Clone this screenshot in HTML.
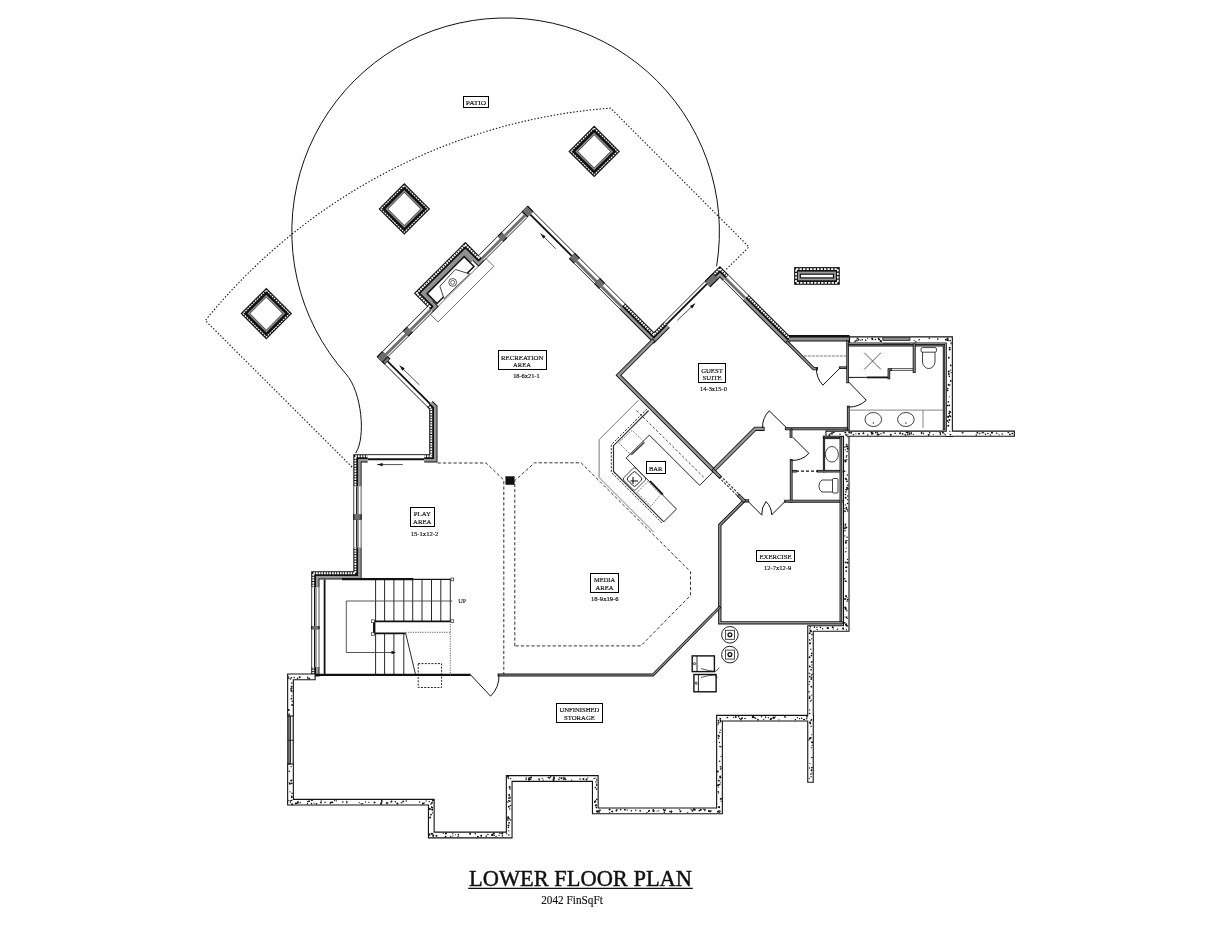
<!DOCTYPE html>
<html><head><meta charset="utf-8"><title>Lower Floor Plan</title>
<style>html,body{margin:0;padding:0;background:#fff;width:1212px;height:925px;overflow:hidden;position:relative;font-family:"Liberation Serif",serif}</style>
</head><body>
<svg width="1212" height="925" viewBox="0 0 1212 925" style="position:absolute;left:0;top:0;font-family:'Liberation Serif',serif">
<rect width="1212" height="925" fill="#fff"/>
<g style="will-change:transform">
<path d="M 716.6,266.3 A 213.8 213.8 0 1 0 346,374 C 362,391.9 366,438 355.7,453" fill="none" stroke="#111" stroke-width="1"/>
<path d="M 352,467 L 205.3,320.5 A 578 578 0 0 1 610.6,108.1 L 749,247 L 725.8,269.8" fill="none" stroke="#111" stroke-width="1.1" stroke-dasharray="1.4 1.9"/>
<rect x="386.06" y="190.66" width="36.49" height="36.49" transform="rotate(45 404.3 208.9)" fill="#111"/>
<rect x="387.81" y="192.41" width="32.99" height="32.99" transform="rotate(45 404.3 208.9)" fill="none" stroke="#fff" stroke-width="1.15" stroke-dasharray="1.8 0.9"/>
<rect x="390.96" y="195.56" width="26.69" height="26.69" transform="rotate(45 404.3 208.9)" fill="#8a8a8a"/>
<rect x="392.36" y="196.96" width="23.89" height="23.89" transform="rotate(45 404.3 208.9)" fill="#333"/>
<rect x="392.96" y="197.56" width="22.69" height="22.69" transform="rotate(45 404.3 208.9)" fill="#fff"/>
<rect x="248.06" y="295.36" width="36.49" height="36.49" transform="rotate(45 266.3 313.6)" fill="#111"/>
<rect x="249.81" y="297.11" width="32.99" height="32.99" transform="rotate(45 266.3 313.6)" fill="none" stroke="#fff" stroke-width="1.15" stroke-dasharray="1.8 0.9"/>
<rect x="252.96" y="300.26" width="26.69" height="26.69" transform="rotate(45 266.3 313.6)" fill="#8a8a8a"/>
<rect x="254.36" y="301.66" width="23.89" height="23.89" transform="rotate(45 266.3 313.6)" fill="#333"/>
<rect x="254.96" y="302.26" width="22.69" height="22.69" transform="rotate(45 266.3 313.6)" fill="#fff"/>
<rect x="575.96" y="133.16" width="36.49" height="36.49" transform="rotate(45 594.2 151.4)" fill="#111"/>
<rect x="577.71" y="134.91" width="32.99" height="32.99" transform="rotate(45 594.2 151.4)" fill="none" stroke="#fff" stroke-width="1.15" stroke-dasharray="1.8 0.9"/>
<rect x="580.86" y="138.06" width="26.69" height="26.69" transform="rotate(45 594.2 151.4)" fill="#8a8a8a"/>
<rect x="582.26" y="139.46" width="23.89" height="23.89" transform="rotate(45 594.2 151.4)" fill="#333"/>
<rect x="582.86" y="140.06" width="22.69" height="22.69" transform="rotate(45 594.2 151.4)" fill="#fff"/>
<polygon points="311.2,676.5 311.2,571.2 353.3,571.2 353.3,454.2 429.2,454.2 429.2,409.2 376.75,356.75 427,306.5 413.85,293.35 465.35,241.85 478.5,255 527.75,205.75 653.9,331.9 719.9,265.9 788.9,334.9 790,334.9 790,343.2 785.46,343.2 719.9,277.64 653.9,343.64 527.75,217.49 478.5,266.74 465.35,253.59 425.59,293.35 438.74,306.5 388.49,356.75 437.5,405.76 437.5,462.5 361.6,462.5 361.6,579.5 319.5,579.5 319.5,676.5" fill="#111"/>
<polyline points="313.25,676.5 313.25,573.25 355.35,573.25 355.35,456.25 431.25,456.25 431.25,408.35 379.65,356.75 429.9,306.5 416.75,293.35 465.35,244.75 478.5,257.9 527.75,208.65 653.9,334.8 719.9,268.8 788.05,336.95 790,336.95" fill="none" stroke="#fff" stroke-width="1.9" stroke-dasharray="1.8 0.85" stroke-linecap="butt" stroke-linejoin="miter"/>
<polygon points="316,676.5 316,576 358.1,576 358.1,459 434,459 434,407.21 383.54,356.75 433.79,306.5 420.64,293.35 465.35,248.64 478.5,261.79 527.75,212.54 653.9,338.69 719.9,272.69 786.91,339.7 790,339.7 790,342.3 785.83,342.3 719.9,276.37 653.9,342.37 527.75,216.22 478.5,265.47 465.35,252.32 424.32,293.35 437.47,306.5 387.22,356.75 436.6,406.13 436.6,461.6 360.7,461.6 360.7,578.6 318.6,578.6 318.6,676.5" fill="#969696"/>
<polygon points="788.9,334.9 849.5,334.9 849.5,341.5 788.9,341.5" fill="#111"/>
<polygon points="788.9,337.6 849.5,337.6 849.5,340.6 788.9,340.6" fill="#8e8e8e"/>
<polygon points="367.7,453.8 424.2,453.8 424.2,464.4 367.7,464.4" fill="#fff"/>
<polyline points="367.7,454.65 424.2,454.65" fill="none" stroke="#111" stroke-width="0.9" stroke-linecap="butt" stroke-linejoin="miter"/>
<polyline points="367.7,459.24 424.2,459.24" fill="none" stroke="#111" stroke-width="1.8" stroke-linecap="butt" stroke-linejoin="miter"/>
<polygon points="352.9,547.4 352.9,519.8 362.3,519.8 362.3,547.4" fill="#fff"/>
<polyline points="353.75,547.4 353.75,519.8" fill="none" stroke="#333" stroke-width="0.9" stroke-linecap="butt" stroke-linejoin="miter"/>
<polyline points="361.1,547.4 361.1,519.8" fill="none" stroke="#555" stroke-width="1" stroke-linecap="butt" stroke-linejoin="miter"/>
<polyline points="356.79,547.4 356.79,519.8" fill="none" stroke="#111" stroke-width="1.4" stroke-linecap="butt" stroke-linejoin="miter"/>
<polyline points="358.45,547.4 358.45,519.8" fill="none" stroke="#666" stroke-width="0.7" stroke-linecap="butt" stroke-linejoin="miter"/>
<polygon points="353.3,519.8 353.3,514.1 361.6,514.1 361.6,519.8" fill="#111"/>
<polygon points="354.3,519.8 354.3,514.1 360.6,514.1 360.6,519.8" fill="#6e6e6e"/>
<polygon points="352.9,514.1 352.9,486.4 362.3,486.4 362.3,514.1" fill="#fff"/>
<polyline points="353.75,514.1 353.75,486.4" fill="none" stroke="#333" stroke-width="0.9" stroke-linecap="butt" stroke-linejoin="miter"/>
<polyline points="361.1,514.1 361.1,486.4" fill="none" stroke="#555" stroke-width="1" stroke-linecap="butt" stroke-linejoin="miter"/>
<polyline points="356.79,514.1 356.79,486.4" fill="none" stroke="#111" stroke-width="1.4" stroke-linecap="butt" stroke-linejoin="miter"/>
<polyline points="358.45,514.1 358.45,486.4" fill="none" stroke="#666" stroke-width="0.7" stroke-linecap="butt" stroke-linejoin="miter"/>
<polygon points="310.8,667 310.8,629.2 320.2,629.2 320.2,667" fill="#fff"/>
<polyline points="311.65,667 311.65,629.2" fill="none" stroke="#333" stroke-width="0.9" stroke-linecap="butt" stroke-linejoin="miter"/>
<polyline points="319,667 319,629.2" fill="none" stroke="#555" stroke-width="1" stroke-linecap="butt" stroke-linejoin="miter"/>
<polyline points="314.69,667 314.69,629.2" fill="none" stroke="#111" stroke-width="1.4" stroke-linecap="butt" stroke-linejoin="miter"/>
<polyline points="316.35,667 316.35,629.2" fill="none" stroke="#666" stroke-width="0.7" stroke-linecap="butt" stroke-linejoin="miter"/>
<polygon points="311.2,629.2 311.2,626 319.5,626 319.5,629.2" fill="#111"/>
<polygon points="312.2,629.2 312.2,626 318.5,626 318.5,629.2" fill="#6e6e6e"/>
<polygon points="310.8,626 310.8,587.4 320.2,587.4 320.2,626" fill="#fff"/>
<polyline points="311.65,626 311.65,587.4" fill="none" stroke="#333" stroke-width="0.9" stroke-linecap="butt" stroke-linejoin="miter"/>
<polyline points="319,626 319,587.4" fill="none" stroke="#555" stroke-width="1" stroke-linecap="butt" stroke-linejoin="miter"/>
<polyline points="314.69,626 314.69,587.4" fill="none" stroke="#111" stroke-width="1.4" stroke-linecap="butt" stroke-linejoin="miter"/>
<polyline points="316.35,626 316.35,587.4" fill="none" stroke="#666" stroke-width="0.7" stroke-linecap="butt" stroke-linejoin="miter"/>
<polygon points="426.52,407.08 384.22,364.78 390.86,358.14 433.16,400.44" fill="#fff"/>
<polyline points="427.12,406.48 384.82,364.18" fill="none" stroke="#111" stroke-width="0.9" stroke-linecap="butt" stroke-linejoin="miter"/>
<polyline points="429.91,403.69 387.61,361.39" fill="none" stroke="#111" stroke-width="1.8" stroke-linecap="butt" stroke-linejoin="miter"/>
<polygon points="384.5,364.5 376.75,356.75 382.62,350.88 390.37,358.63" fill="#111"/>
<polygon points="385.21,363.79 377.46,356.04 381.91,351.59 389.66,359.34" fill="#6e6e6e"/>
<polygon points="376.75,356.75 382.5,351 388.37,356.87 382.62,362.62" fill="#111"/>
<polygon points="377.46,357.46 383.21,351.71 387.66,356.16 381.91,361.91" fill="#6e6e6e"/>
<polygon points="382.22,350.72 402.52,330.42 409.16,337.06 388.86,357.36" fill="#fff"/>
<polygon points="384.96,353.46 405.26,333.16 407.32,335.22 387.02,355.52" fill="#707070"/>
<polyline points="382.82,351.32 403.12,331.02" fill="none" stroke="#111" stroke-width="0.9" stroke-linecap="butt" stroke-linejoin="miter"/>
<polyline points="388.05,356.55 408.35,336.25" fill="none" stroke="#111" stroke-width="0.9" stroke-linecap="butt" stroke-linejoin="miter"/>
<polygon points="402.8,330.7 407,326.5 412.87,332.37 408.67,336.57" fill="#111"/>
<polygon points="403.51,331.41 407.71,327.21 412.16,331.66 407.96,335.86" fill="#6e6e6e"/>
<polygon points="406.72,326.22 426.72,306.22 433.36,312.86 413.36,332.86" fill="#fff"/>
<polygon points="409.46,328.96 429.46,308.96 431.52,311.02 411.52,331.02" fill="#707070"/>
<polyline points="407.32,326.82 427.32,306.82" fill="none" stroke="#111" stroke-width="0.9" stroke-linecap="butt" stroke-linejoin="miter"/>
<polyline points="412.55,332.05 432.55,312.05" fill="none" stroke="#111" stroke-width="0.9" stroke-linecap="butt" stroke-linejoin="miter"/>
<polygon points="478.22,254.72 497.22,235.72 503.86,242.36 484.86,261.36" fill="#fff"/>
<polygon points="480.96,257.46 499.96,238.46 502.02,240.52 483.02,259.52" fill="#707070"/>
<polyline points="478.82,255.32 497.82,236.32" fill="none" stroke="#111" stroke-width="0.9" stroke-linecap="butt" stroke-linejoin="miter"/>
<polyline points="484.05,260.55 503.05,241.55" fill="none" stroke="#111" stroke-width="0.9" stroke-linecap="butt" stroke-linejoin="miter"/>
<polygon points="497.5,236 501.7,231.8 507.57,237.67 503.37,241.87" fill="#111"/>
<polygon points="498.21,236.71 502.41,232.51 506.86,236.96 502.66,241.16" fill="#6e6e6e"/>
<polygon points="501.42,231.52 521.22,211.72 527.86,218.36 508.06,238.16" fill="#fff"/>
<polygon points="504.16,234.26 523.96,214.46 526.02,216.52 506.22,236.32" fill="#707070"/>
<polyline points="502.02,232.12 521.82,212.32" fill="none" stroke="#111" stroke-width="0.9" stroke-linecap="butt" stroke-linejoin="miter"/>
<polyline points="507.25,237.35 527.05,217.55" fill="none" stroke="#111" stroke-width="0.9" stroke-linecap="butt" stroke-linejoin="miter"/>
<polygon points="521.5,212 527.75,205.75 533.62,211.62 527.37,217.87" fill="#111"/>
<polygon points="522.21,212.71 528.46,206.46 532.91,210.91 526.66,217.16" fill="#6e6e6e"/>
<polygon points="527.75,205.75 533.5,211.5 527.63,217.37 521.88,211.62" fill="#111"/>
<polygon points="527.04,206.46 532.79,212.21 528.34,216.66 522.59,210.91" fill="#6e6e6e"/>
<polygon points="533.78,211.22 575.08,252.52 568.44,259.16 527.14,217.86" fill="#fff"/>
<polyline points="533.18,211.82 574.48,253.12" fill="none" stroke="#111" stroke-width="0.9" stroke-linecap="butt" stroke-linejoin="miter"/>
<polyline points="530.39,214.61 571.69,255.91" fill="none" stroke="#111" stroke-width="1.8" stroke-linecap="butt" stroke-linejoin="miter"/>
<polygon points="574.8,252.8 580,258 574.13,263.87 568.93,258.67" fill="#111"/>
<polygon points="574.09,253.51 579.29,258.71 574.84,263.16 569.64,257.96" fill="#6e6e6e"/>
<polygon points="580.28,257.72 600.28,277.72 593.64,284.36 573.64,264.36" fill="#fff"/>
<polygon points="577.54,260.46 597.54,280.46 595.48,282.52 575.48,262.52" fill="#707070"/>
<polyline points="579.68,258.32 599.68,278.32" fill="none" stroke="#111" stroke-width="0.9" stroke-linecap="butt" stroke-linejoin="miter"/>
<polyline points="574.45,263.55 594.45,283.55" fill="none" stroke="#111" stroke-width="0.9" stroke-linecap="butt" stroke-linejoin="miter"/>
<polygon points="600,278 605.2,283.2 599.33,289.07 594.13,283.87" fill="#111"/>
<polygon points="599.29,278.71 604.49,283.91 600.04,288.36 594.84,283.16" fill="#6e6e6e"/>
<polygon points="605.48,282.92 625.28,302.72 618.64,309.36 598.84,289.56" fill="#fff"/>
<polygon points="602.74,285.66 622.54,305.46 620.48,307.52 600.68,287.72" fill="#707070"/>
<polyline points="604.88,283.52 624.68,303.32" fill="none" stroke="#111" stroke-width="0.9" stroke-linecap="butt" stroke-linejoin="miter"/>
<polyline points="599.65,288.75 619.45,308.55" fill="none" stroke="#111" stroke-width="0.9" stroke-linecap="butt" stroke-linejoin="miter"/>
<polygon points="663.72,321.52 704.22,281.02 710.86,287.66 670.36,328.16" fill="#fff"/>
<polyline points="664.32,322.12 704.82,281.62" fill="none" stroke="#111" stroke-width="0.9" stroke-linecap="butt" stroke-linejoin="miter"/>
<polyline points="666.47,324.27 706.97,283.77" fill="none" stroke="#111" stroke-width="1.8" stroke-linecap="butt" stroke-linejoin="miter"/>
<polygon points="704.5,281.3 712.5,273.3 718.37,279.17 710.37,287.17" fill="#111"/>
<polygon points="705.21,282.01 713.21,274.01 717.66,278.46 709.66,286.46" fill="#6e6e6e"/>
<polygon points="729.08,274.52 748.88,294.32 742.24,300.96 722.44,281.16" fill="#fff"/>
<polygon points="726.34,277.26 746.14,297.06 744.08,299.12 724.28,279.32" fill="#707070"/>
<polyline points="728.48,275.12 748.28,294.92" fill="none" stroke="#111" stroke-width="0.9" stroke-linecap="butt" stroke-linejoin="miter"/>
<polyline points="723.25,280.35 743.05,300.15" fill="none" stroke="#111" stroke-width="0.9" stroke-linecap="butt" stroke-linejoin="miter"/>
<polygon points="422.50,293.00 464.75,250.75 473.80,259.80 431.55,302.05" fill="#8e8e8e"/>
<polygon points="427.15,293.65 464.15,256.65 474.00,266.50 437.00,303.50" fill="#fff" stroke="#111" stroke-width="1.5"/>
<polygon points="439.9,286.3 455.3,269.4 469.7,274 444,298.7" fill="#fff" stroke="#111" stroke-width="0.8"/>
<circle cx="452.7" cy="282.4" r="3.9" fill="none" stroke="#111" stroke-width="0.7"/>
<circle cx="452.7" cy="282.4" r="2" fill="none" stroke="#111" stroke-width="0.6"/>
<polygon points="430.2,314.2 437.9,322 493.8,266.3 486.1,258.6" fill="none" stroke="#333" stroke-width="0.7"/>
<polyline points="652.5,341.3 618.5,375.3 713.6,470.4 755.2,428.8 762.5,428.8" fill="none" stroke="#111" stroke-width="4.2" stroke-linejoin="miter" stroke-linecap="square"/>
<polyline points="652.5,341.3 618.5,375.3 713.6,470.4 755.2,428.8 762.5,428.8" fill="none" stroke="#959595" stroke-width="2.5" stroke-linejoin="miter" stroke-linecap="square"/>
<polyline points="787.5,342.5 813.6,368.6 816.3,368.6" fill="none" stroke="#111" stroke-width="3.4" stroke-linejoin="miter" stroke-linecap="square"/>
<polyline points="787.5,342.5 813.6,368.6 816.3,368.6" fill="none" stroke="#8e8e8e" stroke-width="1.7" stroke-linejoin="miter" stroke-linecap="square"/>
<polyline points="840.2,367.7 846,367.7" fill="none" stroke="#111" stroke-width="2.6" stroke-linejoin="miter" stroke-linecap="square"/>
<polyline points="840.2,367.7 846,367.7" fill="none" stroke="#8e8e8e" stroke-width="0.9" stroke-linejoin="miter" stroke-linecap="square"/>
<polyline points="847.6,341.5 847.6,381.9" fill="none" stroke="#111" stroke-width="2.6" stroke-linejoin="miter" stroke-linecap="square"/>
<polyline points="847.6,341.5 847.6,381.9" fill="none" stroke="#8e8e8e" stroke-width="0.9" stroke-linejoin="miter" stroke-linecap="square"/>
<polyline points="848.3,407.1 848.3,428.8" fill="none" stroke="#111" stroke-width="2.8" stroke-linejoin="miter" stroke-linecap="square"/>
<polyline points="848.3,407.1 848.3,428.8" fill="none" stroke="#8e8e8e" stroke-width="1.1" stroke-linejoin="miter" stroke-linecap="square"/>
<polyline points="786.4,428.8 846.25,428.8" fill="none" stroke="#111" stroke-width="3" stroke-linejoin="miter" stroke-linecap="square"/>
<polyline points="786.4,428.8 846.25,428.8" fill="none" stroke="#8e8e8e" stroke-width="1.3" stroke-linejoin="miter" stroke-linecap="square"/>
<polyline points="791,430 791,436.4" fill="none" stroke="#111" stroke-width="2.8" stroke-linejoin="miter" stroke-linecap="square"/>
<polyline points="791,430 791,436.4" fill="none" stroke="#8e8e8e" stroke-width="1.1" stroke-linejoin="miter" stroke-linecap="square"/>
<polyline points="849,345.3 944,345.3 944,428.8" fill="none" stroke="#111" stroke-width="2.4" stroke-linejoin="miter" stroke-linecap="square"/>
<polyline points="849,345.3 944,345.3 944,428.8" fill="none" stroke="#8e8e8e" stroke-width="0.7" stroke-linejoin="miter" stroke-linecap="square"/>
<polyline points="914.2,345 914.2,371.5" fill="none" stroke="#111" stroke-width="3" stroke-linejoin="miter" stroke-linecap="square"/>
<polyline points="914.2,345 914.2,371.5" fill="none" stroke="#8e8e8e" stroke-width="1.3" stroke-linejoin="miter" stroke-linecap="square"/>
<polyline points="849,377.4 866.6,377.4" fill="none" stroke="#111" stroke-width="1" stroke-linecap="butt"/>
<polyline points="866.6,377.4 888.9,377.4" fill="none" stroke="#111" stroke-width="1.8" stroke-linecap="butt"/>
<polyline points="888.9,378 888.9,369.6 890.5,369.6" fill="none" stroke="#111" stroke-width="2.6" stroke-linejoin="miter" stroke-linecap="square"/>
<polyline points="888.9,378 888.9,369.6 890.5,369.6" fill="none" stroke="#8e8e8e" stroke-width="0.9" stroke-linejoin="miter" stroke-linecap="square"/>
<polyline points="890,368.6 913,368.6" fill="none" stroke="#111" stroke-width="0.7" stroke-linecap="butt"/>
<polyline points="890,370.4 913,370.4" fill="none" stroke="#111" stroke-width="0.7" stroke-linecap="butt"/>
<polyline points="824,436.7 824,471.2" fill="none" stroke="#111" stroke-width="2.2" stroke-linejoin="miter" stroke-linecap="square"/>
<polyline points="824,436.7 824,471.2" fill="none" stroke="#8e8e8e" stroke-width="0.5" stroke-linejoin="miter" stroke-linecap="square"/>
<polyline points="824,438 841,438" fill="none" stroke="#111" stroke-width="2.2" stroke-linejoin="miter" stroke-linecap="square"/>
<polyline points="824,438 841,438" fill="none" stroke="#8e8e8e" stroke-width="0.5" stroke-linejoin="miter" stroke-linecap="square"/>
<polyline points="818,471.2 841,471.2" fill="none" stroke="#111" stroke-width="2.6" stroke-linejoin="miter" stroke-linecap="square"/>
<polyline points="818,471.2 841,471.2" fill="none" stroke="#8e8e8e" stroke-width="0.9" stroke-linejoin="miter" stroke-linecap="square"/>
<polyline points="792.7,471.2 795.5,471.2" fill="none" stroke="#111" stroke-width="2.6" stroke-linejoin="miter" stroke-linecap="square"/>
<polyline points="792.7,471.2 795.5,471.2" fill="none" stroke="#8e8e8e" stroke-width="0.9" stroke-linejoin="miter" stroke-linecap="square"/>
<polyline points="796,471.2 818,471.2" fill="none" stroke="#111" stroke-width="1.2" stroke-dasharray="3 2" stroke-linecap="butt"/>
<polyline points="791.2,460.4 791.2,501.2" fill="none" stroke="#111" stroke-width="2.8" stroke-linejoin="miter" stroke-linecap="square"/>
<polyline points="791.2,460.4 791.2,501.2" fill="none" stroke="#8e8e8e" stroke-width="1.1" stroke-linejoin="miter" stroke-linecap="square"/>
<polyline points="785.7,501.2 841,501.2" fill="none" stroke="#111" stroke-width="3" stroke-linejoin="miter" stroke-linecap="square"/>
<polyline points="785.7,501.2 841,501.2" fill="none" stroke="#8e8e8e" stroke-width="1.3" stroke-linejoin="miter" stroke-linecap="square"/>
<polyline points="840.9,436.7 840.9,622.8" fill="none" stroke="#111" stroke-width="2.7" stroke-linejoin="miter" stroke-linecap="square"/>
<polyline points="840.9,436.7 840.9,622.8" fill="none" stroke="#8e8e8e" stroke-width="1" stroke-linejoin="miter" stroke-linecap="square"/>
<polyline points="747.5,500.8 744,500.8 719.8,525 719.8,622.8 841,622.8" fill="none" stroke="#111" stroke-width="3.3" stroke-linejoin="miter" stroke-linecap="square"/>
<polyline points="747.5,500.8 744,500.8 719.8,525 719.8,622.8 841,622.8" fill="none" stroke="#8e8e8e" stroke-width="1.6" stroke-linejoin="miter" stroke-linecap="square"/>
<polyline points="719.4,607.6 653,675 499,675" fill="none" stroke="#111" stroke-width="2.8" stroke-linejoin="miter" stroke-linecap="square"/>
<polyline points="719.4,607.6 653,675 499,675" fill="none" stroke="#999" stroke-width="1.2" stroke-linejoin="miter" stroke-linecap="square"/>
<polyline points="315.6,674.8 470.6,674.8" fill="none" stroke="#111" stroke-width="2.2" stroke-linecap="butt"/>
<polyline points="852.6,339.95 949.3,339.95 949.3,433.5" fill="none" stroke="#111" stroke-width="7.2" stroke-linejoin="miter" stroke-linecap="square"/>
<polyline points="828.5,433.7 1011.8,433.7" fill="none" stroke="#111" stroke-width="6.2" stroke-linejoin="miter" stroke-linecap="square"/>
<polyline points="846.25,433.7 846.25,628.5 810.5,628.5 810.5,779.5" fill="none" stroke="#111" stroke-width="6.6" stroke-linejoin="miter" stroke-linecap="square"/>
<polyline points="312.3,676.9 290.5,676.9 290.5,802.2 431.3,802.2 431.3,835 509.2,835 509.2,778.5 595.3,778.5 595.3,810.9 719.5,810.9 719.5,718.2 810.5,718.2" fill="none" stroke="#111" stroke-width="6.8" stroke-linejoin="miter" stroke-linecap="square"/>
<polyline points="852.6,339.95 949.3,339.95 949.3,433.5" fill="none" stroke="#fff" stroke-width="5" stroke-linejoin="miter" stroke-linecap="square"/>
<polyline points="828.5,433.7 1011.8,433.7" fill="none" stroke="#fff" stroke-width="4" stroke-linejoin="miter" stroke-linecap="square"/>
<polyline points="846.25,433.7 846.25,628.5 810.5,628.5 810.5,779.5" fill="none" stroke="#fff" stroke-width="4.4" stroke-linejoin="miter" stroke-linecap="square"/>
<polyline points="312.3,676.9 290.5,676.9 290.5,802.2 431.3,802.2 431.3,835 509.2,835 509.2,778.5 595.3,778.5 595.3,810.9 719.5,810.9 719.5,718.2 810.5,718.2" fill="none" stroke="#fff" stroke-width="4.6" stroke-linejoin="miter" stroke-linecap="square"/>
<g fill="#111"><circle cx="883.14" cy="338.62" r="1"/><circle cx="855.28" cy="341.17" r="0.6"/><circle cx="887.37" cy="338.27" r="0.9"/><circle cx="872.11" cy="338.38" r="0.8"/><circle cx="857.46" cy="338.39" r="0.8"/><circle cx="856.38" cy="340.2" r="0.65"/><circle cx="914.16" cy="340.27" r="0.6"/><circle cx="908.75" cy="339.56" r="0.65"/><circle cx="855.11" cy="341.31" r="0.75"/><circle cx="892.77" cy="340.1" r="0.9"/><circle cx="881.59" cy="341.15" r="0.65"/><circle cx="860.82" cy="340.22" r="0.65"/><circle cx="888.05" cy="340.13" r="0.6"/><circle cx="907.46" cy="340.4" r="0.8"/><circle cx="919.19" cy="339.67" r="0.75"/><circle cx="897.47" cy="341.56" r="0.75"/><circle cx="880.71" cy="341.07" r="1"/><circle cx="929.24" cy="338.36" r="0.75"/><circle cx="903.5" cy="341.38" r="1"/><circle cx="895.78" cy="340.36" r="0.6"/><circle cx="862.34" cy="339.64" r="0.75"/><circle cx="865.77" cy="339.91" r="0.6"/><circle cx="947.66" cy="338.34" r="0.9"/><circle cx="908.33" cy="341.38" r="0.75"/><circle cx="884.79" cy="339.38" r="0.8"/><circle cx="909.03" cy="339.78" r="0.6"/><circle cx="945.91" cy="339.85" r="1"/><circle cx="856.97" cy="340.83" r="0.75"/><circle cx="915.82" cy="341.82" r="0.8"/><circle cx="879.17" cy="339.52" r="1"/><circle cx="885.48" cy="341.62" r="0.75"/><circle cx="867.39" cy="338.49" r="0.6"/><circle cx="872.46" cy="339.14" r="1"/><circle cx="875.43" cy="339.54" r="0.8"/><circle cx="858.55" cy="339.76" r="0.9"/><circle cx="878.49" cy="338.57" r="0.8"/><circle cx="937.75" cy="339.11" r="0.8"/><circle cx="950.13" cy="340.64" r="0.8"/><circle cx="947.23" cy="338.62" r="0.65"/><circle cx="865.7" cy="340.55" r="0.6"/><circle cx="948.96" cy="385.25" r="0.75"/><circle cx="950.65" cy="365.37" r="0.9"/><circle cx="949.05" cy="373.92" r="0.65"/><circle cx="949.24" cy="405.38" r="0.9"/><circle cx="948.39" cy="401.9" r="0.8"/><circle cx="948.24" cy="425.86" r="1"/><circle cx="949.71" cy="415.9" r="0.8"/><circle cx="949.37" cy="376.35" r="0.8"/><circle cx="950.94" cy="343.85" r="0.65"/><circle cx="950.78" cy="380.91" r="0.9"/><circle cx="951.2" cy="342.9" r="0.65"/><circle cx="947.59" cy="390.31" r="0.9"/><circle cx="947.88" cy="340.25" r="0.9"/><circle cx="948.79" cy="374.6" r="0.75"/><circle cx="949.4" cy="396.74" r="0.6"/><circle cx="947.43" cy="420.9" r="0.8"/><circle cx="950.01" cy="384.8" r="0.65"/><circle cx="949.9" cy="347.76" r="0.75"/><circle cx="948.57" cy="384.63" r="0.9"/><circle cx="947.59" cy="340.01" r="0.9"/><circle cx="948.58" cy="373.18" r="0.6"/><circle cx="950.07" cy="412.01" r="1"/><circle cx="948.55" cy="422.31" r="0.75"/><circle cx="947.75" cy="388.53" r="0.75"/><circle cx="949.18" cy="413.36" r="0.9"/><circle cx="950.35" cy="370.04" r="0.65"/><circle cx="948.09" cy="416.71" r="1"/><circle cx="950.44" cy="416.44" r="0.8"/><circle cx="951.09" cy="372.58" r="0.6"/><circle cx="949.41" cy="415.14" r="0.65"/><circle cx="947.57" cy="405.58" r="0.8"/><circle cx="948.45" cy="416.95" r="0.75"/><circle cx="949.81" cy="431.29" r="0.65"/><circle cx="949.41" cy="347.76" r="0.75"/><circle cx="948.83" cy="357.77" r="0.9"/><circle cx="949.38" cy="420.07" r="1"/><circle cx="948.76" cy="371.45" r="1"/><circle cx="949.72" cy="349.49" r="1"/><circle cx="949.38" cy="411.23" r="0.65"/><circle cx="907.81" cy="434.08" r="0.6"/><circle cx="976.31" cy="435.02" r="0.8"/><circle cx="913.27" cy="434.38" r="0.6"/><circle cx="962.12" cy="432.78" r="0.65"/><circle cx="831.94" cy="433.95" r="0.8"/><circle cx="977.37" cy="432.71" r="0.9"/><circle cx="1009.82" cy="434.14" r="0.75"/><circle cx="855.91" cy="433.84" r="0.6"/><circle cx="829.46" cy="435.02" r="1"/><circle cx="845.99" cy="434.4" r="0.65"/><circle cx="907.79" cy="434.74" r="0.65"/><circle cx="832.03" cy="432.9" r="0.9"/><circle cx="871.71" cy="433.94" r="0.75"/><circle cx="928.43" cy="434.64" r="0.6"/><circle cx="996.7" cy="433.29" r="0.8"/><circle cx="950.48" cy="434.58" r="0.9"/><circle cx="905.33" cy="434.87" r="0.9"/><circle cx="851.21" cy="432.73" r="0.9"/><circle cx="830.29" cy="433.53" r="0.65"/><circle cx="940.42" cy="434.47" r="0.65"/><circle cx="858.98" cy="433.63" r="1"/><circle cx="849.27" cy="432.47" r="1"/><circle cx="923.58" cy="433.86" r="0.6"/><circle cx="991.7" cy="432.46" r="0.65"/><circle cx="878.5" cy="434.46" r="0.9"/><circle cx="911.22" cy="432.38" r="0.6"/><circle cx="909.55" cy="434.02" r="0.9"/><circle cx="939.97" cy="432.86" r="0.75"/><circle cx="911.25" cy="433.79" r="0.8"/><circle cx="921.6" cy="432.99" r="0.9"/><circle cx="990.45" cy="434.94" r="0.75"/><circle cx="999.08" cy="434.8" r="0.65"/><circle cx="983.63" cy="432.68" r="0.6"/><circle cx="900.05" cy="433.18" r="1"/><circle cx="871.73" cy="432.5" r="1"/><circle cx="883.33" cy="432.64" r="0.65"/><circle cx="1002.21" cy="434.1" r="0.75"/><circle cx="853.49" cy="434.77" r="0.8"/><circle cx="867.8" cy="434.97" r="0.8"/><circle cx="992.02" cy="432.76" r="1"/><circle cx="982.22" cy="432.75" r="0.8"/><circle cx="1012.39" cy="433.43" r="0.8"/><circle cx="863.35" cy="433.19" r="1"/><circle cx="895.12" cy="433.25" r="0.8"/><circle cx="909.03" cy="432.35" r="0.75"/><circle cx="923.4" cy="433.13" r="0.6"/><circle cx="847.87" cy="434.87" r="0.65"/><circle cx="1008.22" cy="432.59" r="0.75"/><circle cx="877.57" cy="434.84" r="0.65"/><circle cx="877.29" cy="432.66" r="0.8"/><circle cx="985.42" cy="434.19" r="0.75"/><circle cx="902.59" cy="433.8" r="0.9"/><circle cx="933.33" cy="434.26" r="0.6"/><circle cx="878.9" cy="434.54" r="0.65"/><circle cx="906.21" cy="432.5" r="0.6"/><circle cx="945.25" cy="434.54" r="0.6"/><circle cx="940.35" cy="432.92" r="0.75"/><circle cx="987.88" cy="433.57" r="0.75"/><circle cx="1012.44" cy="433.47" r="0.75"/><circle cx="942.87" cy="432.42" r="1"/><circle cx="871.32" cy="432.61" r="0.65"/><circle cx="875.7" cy="432.81" r="0.75"/><circle cx="944.17" cy="433.79" r="0.65"/><circle cx="880.94" cy="433.7" r="0.65"/><circle cx="877.31" cy="434.55" r="0.75"/><circle cx="833.7" cy="432.35" r="0.9"/><circle cx="929.68" cy="432.83" r="0.8"/><circle cx="872.67" cy="433.55" r="1"/><circle cx="979.69" cy="433.51" r="0.8"/><circle cx="928.72" cy="434.79" r="0.9"/><circle cx="884.26" cy="432.9" r="0.65"/><circle cx="890.78" cy="434.63" r="1"/><circle cx="962.88" cy="432.69" r="0.75"/><circle cx="1010.12" cy="434.64" r="0.6"/><circle cx="840" cy="434.37" r="0.75"/><circle cx="907.22" cy="432.46" r="1"/><circle cx="845.06" cy="598.88" r="1"/><circle cx="845.93" cy="624.63" r="1"/><circle cx="846.38" cy="490" r="0.65"/><circle cx="847.84" cy="485.23" r="0.75"/><circle cx="844.74" cy="622.81" r="0.9"/><circle cx="847.74" cy="496.05" r="0.75"/><circle cx="847.26" cy="475.07" r="0.75"/><circle cx="846.33" cy="507.59" r="0.9"/><circle cx="847.06" cy="562.09" r="0.6"/><circle cx="845.24" cy="449.84" r="0.65"/><circle cx="847.72" cy="511.14" r="0.6"/><circle cx="845.84" cy="491.31" r="0.6"/><circle cx="846.16" cy="548.1" r="0.65"/><circle cx="845.56" cy="562.39" r="0.9"/><circle cx="846.81" cy="509.16" r="0.8"/><circle cx="845.53" cy="461.48" r="1"/><circle cx="845.21" cy="460.55" r="1"/><circle cx="845.84" cy="608.94" r="1"/><circle cx="846.23" cy="571.03" r="0.9"/><circle cx="846.03" cy="581.32" r="0.6"/><circle cx="845.98" cy="595.92" r="1"/><circle cx="845.63" cy="567.42" r="0.65"/><circle cx="847.72" cy="448.7" r="1"/><circle cx="847.51" cy="503.44" r="0.8"/><circle cx="845.84" cy="542.72" r="1"/><circle cx="847.07" cy="537.34" r="0.75"/><circle cx="845.3" cy="432.46" r="1"/><circle cx="844.98" cy="617" r="0.6"/><circle cx="847.64" cy="562.74" r="1"/><circle cx="845.26" cy="525.91" r="0.75"/><circle cx="845.43" cy="478.43" r="0.65"/><circle cx="844.73" cy="578.73" r="0.8"/><circle cx="847.6" cy="599.72" r="1"/><circle cx="847.7" cy="488.86" r="1"/><circle cx="847.6" cy="559.45" r="0.65"/><circle cx="845.77" cy="497.69" r="1"/><circle cx="846.03" cy="492.26" r="0.6"/><circle cx="846.3" cy="527.61" r="1"/><circle cx="847.15" cy="451.56" r="0.8"/><circle cx="846.2" cy="489.56" r="0.8"/><circle cx="845.4" cy="524.33" r="0.9"/><circle cx="844.72" cy="471.37" r="0.8"/><circle cx="846.38" cy="435.28" r="0.9"/><circle cx="846.41" cy="624.07" r="0.75"/><circle cx="844.92" cy="508.63" r="0.65"/><circle cx="847.56" cy="446.62" r="1"/><circle cx="844.8" cy="535.88" r="0.65"/><circle cx="845.83" cy="551.63" r="0.75"/><circle cx="845.6" cy="607.93" r="0.65"/><circle cx="845.05" cy="530.68" r="0.8"/><circle cx="847.84" cy="436.73" r="0.8"/><circle cx="846.55" cy="567.16" r="1"/><circle cx="846.75" cy="459.74" r="0.75"/><circle cx="846.79" cy="455.81" r="0.75"/><circle cx="845.16" cy="580.9" r="0.6"/><circle cx="847.22" cy="618.46" r="0.6"/><circle cx="846.92" cy="610.85" r="0.75"/><circle cx="846.6" cy="444.7" r="0.9"/><circle cx="844.89" cy="446.97" r="0.75"/><circle cx="846.95" cy="601.46" r="0.6"/><circle cx="846.94" cy="597.57" r="0.65"/><circle cx="847" cy="481.32" r="0.9"/><circle cx="845.38" cy="494.48" r="0.8"/><circle cx="845.25" cy="607.42" r="1"/><circle cx="845.05" cy="511.25" r="0.9"/><circle cx="845.55" cy="540.88" r="0.6"/><circle cx="846.54" cy="617.19" r="0.9"/><circle cx="845.79" cy="581.28" r="0.75"/><circle cx="844.93" cy="528.24" r="0.9"/><circle cx="846.34" cy="457.08" r="0.75"/><circle cx="847.03" cy="487.75" r="1"/><circle cx="847.02" cy="625.69" r="1"/><circle cx="846.3" cy="479.2" r="1"/><circle cx="847.31" cy="510.12" r="0.65"/><circle cx="846.25" cy="446.73" r="0.8"/><circle cx="846.4" cy="541.11" r="0.75"/><circle cx="846.41" cy="629.7" r="0.65"/><circle cx="847.07" cy="540.59" r="0.65"/><circle cx="847.56" cy="499.71" r="0.65"/><circle cx="845.26" cy="504.95" r="0.65"/><circle cx="845.45" cy="608.01" r="0.8"/><circle cx="833.01" cy="627.71" r="0.65"/><circle cx="833.24" cy="629.02" r="0.6"/><circle cx="828.45" cy="628.26" r="0.75"/><circle cx="843.17" cy="628.49" r="1"/><circle cx="816.89" cy="627.38" r="0.6"/><circle cx="837.43" cy="629.3" r="0.8"/><circle cx="822.61" cy="628.72" r="0.75"/><circle cx="814.58" cy="627.31" r="0.6"/><circle cx="843.12" cy="628.74" r="0.8"/><circle cx="809.85" cy="628.53" r="0.6"/><circle cx="832.67" cy="627.13" r="0.9"/><circle cx="814.32" cy="626.99" r="0.65"/><circle cx="817.18" cy="629.38" r="0.65"/><circle cx="827.49" cy="627.92" r="1"/><circle cx="820.43" cy="627.39" r="0.8"/><circle cx="809.61" cy="639.76" r="0.6"/><circle cx="811.36" cy="747.7" r="0.6"/><circle cx="811.13" cy="726.52" r="0.65"/><circle cx="810.41" cy="723.58" r="0.8"/><circle cx="811.74" cy="734.74" r="0.6"/><circle cx="809.08" cy="673.09" r="0.65"/><circle cx="811.38" cy="686.68" r="0.9"/><circle cx="810.38" cy="626.78" r="0.8"/><circle cx="811.09" cy="669.73" r="0.65"/><circle cx="811.35" cy="700.18" r="0.65"/><circle cx="810.78" cy="631.13" r="1"/><circle cx="812.03" cy="674.19" r="0.8"/><circle cx="810.03" cy="763.57" r="0.6"/><circle cx="809.96" cy="666.42" r="0.75"/><circle cx="811.99" cy="661.71" r="0.75"/><circle cx="810.94" cy="737.8" r="0.8"/><circle cx="809.55" cy="657.26" r="1"/><circle cx="811.88" cy="757.43" r="0.8"/><circle cx="811.1" cy="776.73" r="0.65"/><circle cx="811.39" cy="662.33" r="0.75"/><circle cx="810.1" cy="643.47" r="0.9"/><circle cx="811.39" cy="655.6" r="0.8"/><circle cx="811.92" cy="767.53" r="0.9"/><circle cx="810.84" cy="649.26" r="0.65"/><circle cx="810.19" cy="630.26" r="0.8"/><circle cx="811.91" cy="634.62" r="0.8"/><circle cx="809.82" cy="696.2" r="0.75"/><circle cx="808.91" cy="740.03" r="0.65"/><circle cx="811.51" cy="677.57" r="0.9"/><circle cx="812" cy="742.13" r="1"/><circle cx="809.41" cy="738.89" r="0.75"/><circle cx="811.75" cy="695.09" r="0.6"/><circle cx="810.98" cy="669.91" r="0.6"/><circle cx="809.67" cy="713.46" r="0.8"/><circle cx="809.47" cy="681.81" r="0.8"/><circle cx="809.84" cy="640.19" r="0.65"/><circle cx="809.16" cy="684.3" r="0.65"/><circle cx="809.74" cy="676.65" r="0.8"/><circle cx="810.79" cy="631.29" r="1"/><circle cx="811.97" cy="745.28" r="0.6"/><circle cx="809.53" cy="698.44" r="0.6"/><circle cx="809.71" cy="666.39" r="0.9"/><circle cx="811.23" cy="679.09" r="0.9"/><circle cx="809.71" cy="633.35" r="1"/><circle cx="811.22" cy="675.59" r="0.6"/><circle cx="810.19" cy="738.3" r="1"/><circle cx="811.89" cy="773.12" r="0.65"/><circle cx="809.81" cy="643.2" r="0.8"/><circle cx="810.86" cy="774.27" r="0.75"/><circle cx="809.49" cy="768.02" r="0.65"/><circle cx="811.51" cy="770.27" r="1"/><circle cx="809.89" cy="673.55" r="0.65"/><circle cx="811.05" cy="720.6" r="0.75"/><circle cx="809.59" cy="697.93" r="0.9"/><circle cx="811.47" cy="638.83" r="0.65"/><circle cx="811.89" cy="664.88" r="0.6"/><circle cx="810.36" cy="701.17" r="0.65"/><circle cx="809.27" cy="778.34" r="0.6"/><circle cx="811.83" cy="667.61" r="0.6"/><circle cx="808.94" cy="691.78" r="0.8"/><circle cx="811.67" cy="653.41" r="0.8"/><circle cx="809.94" cy="722.62" r="1"/><circle cx="809.62" cy="709.97" r="0.6"/><circle cx="294.18" cy="677.6" r="0.75"/><circle cx="299.67" cy="677.33" r="1"/><circle cx="307.58" cy="677.11" r="0.65"/><circle cx="307.97" cy="678.08" r="0.9"/><circle cx="309.44" cy="678.38" r="0.75"/><circle cx="288.69" cy="676.88" r="0.65"/><circle cx="297.54" cy="678.26" r="0.8"/><circle cx="288.73" cy="678.25" r="0.8"/><circle cx="291.52" cy="677.81" r="0.8"/><circle cx="292.06" cy="793.13" r="0.75"/><circle cx="292.03" cy="705.01" r="0.9"/><circle cx="290.22" cy="800.7" r="0.6"/><circle cx="289.26" cy="723.03" r="0.8"/><circle cx="289.57" cy="752.87" r="1"/><circle cx="291.84" cy="797.18" r="0.9"/><circle cx="291.01" cy="766.66" r="0.6"/><circle cx="291.72" cy="722.57" r="0.65"/><circle cx="292.07" cy="804.18" r="1"/><circle cx="291.51" cy="759.16" r="0.6"/><circle cx="290.81" cy="780.78" r="0.75"/><circle cx="291.14" cy="698.84" r="0.65"/><circle cx="290.51" cy="678.97" r="0.8"/><circle cx="291.86" cy="683.08" r="0.8"/><circle cx="291.67" cy="760.76" r="0.9"/><circle cx="291.64" cy="686.69" r="1"/><circle cx="288.84" cy="709.96" r="1"/><circle cx="288.96" cy="714.67" r="0.75"/><circle cx="289.2" cy="771.27" r="0.8"/><circle cx="289.26" cy="728.75" r="0.75"/><circle cx="290.87" cy="758.23" r="0.8"/><circle cx="292.18" cy="701.23" r="0.65"/><circle cx="289.41" cy="729.69" r="0.8"/><circle cx="290.96" cy="749.61" r="0.65"/><circle cx="292.02" cy="691.71" r="0.65"/><circle cx="289.11" cy="757.74" r="0.6"/><circle cx="289.05" cy="748.97" r="1"/><circle cx="291.7" cy="740.13" r="0.75"/><circle cx="291.62" cy="695.82" r="0.6"/><circle cx="290.53" cy="688.97" r="0.65"/><circle cx="289.35" cy="713.9" r="0.6"/><circle cx="290.56" cy="801.04" r="0.6"/><circle cx="290.04" cy="753.47" r="0.6"/><circle cx="290.09" cy="791.82" r="0.65"/><circle cx="289.29" cy="757.69" r="0.9"/><circle cx="289.32" cy="727.2" r="0.8"/><circle cx="291.46" cy="698.56" r="0.8"/><circle cx="291.67" cy="796.25" r="0.75"/><circle cx="291.36" cy="690.81" r="1"/><circle cx="291.55" cy="780.36" r="0.9"/><circle cx="289.91" cy="783.83" r="1"/><circle cx="291.8" cy="783.28" r="0.9"/><circle cx="289.31" cy="733.83" r="0.75"/><circle cx="291.15" cy="758.82" r="0.65"/><circle cx="289.96" cy="729.95" r="0.8"/><circle cx="291.59" cy="740.01" r="0.6"/><circle cx="290.54" cy="754.92" r="0.65"/><circle cx="290.1" cy="732.67" r="0.8"/><circle cx="289.44" cy="783.07" r="0.8"/><circle cx="291.76" cy="688.74" r="0.8"/><circle cx="289.47" cy="722.14" r="0.9"/><circle cx="292.06" cy="740.86" r="1"/><circle cx="307.36" cy="803.64" r="0.75"/><circle cx="401.1" cy="802.24" r="0.6"/><circle cx="397.4" cy="803.54" r="1"/><circle cx="426.19" cy="800.96" r="0.6"/><circle cx="432.74" cy="802.99" r="0.6"/><circle cx="316.55" cy="803.84" r="0.8"/><circle cx="330.19" cy="803.26" r="0.65"/><circle cx="387.85" cy="802.95" r="0.65"/><circle cx="297.99" cy="801.69" r="0.75"/><circle cx="311.49" cy="803.55" r="0.75"/><circle cx="419.55" cy="802.05" r="0.75"/><circle cx="361.22" cy="803.63" r="0.65"/><circle cx="374.21" cy="802.59" r="0.65"/><circle cx="334.7" cy="800.63" r="0.65"/><circle cx="346.92" cy="802.66" r="0.75"/><circle cx="386.92" cy="803.54" r="0.65"/><circle cx="403.2" cy="801.4" r="0.9"/><circle cx="295.53" cy="803.42" r="0.8"/><circle cx="368.89" cy="802.47" r="0.6"/><circle cx="324.99" cy="802.32" r="0.8"/><circle cx="395.35" cy="801.76" r="0.8"/><circle cx="431.92" cy="802.46" r="0.75"/><circle cx="336.4" cy="800.78" r="0.65"/><circle cx="314.09" cy="803.03" r="0.6"/><circle cx="331.42" cy="802.25" r="0.75"/><circle cx="381.06" cy="803.85" r="0.9"/><circle cx="422.94" cy="803.55" r="1"/><circle cx="288.76" cy="800.61" r="0.65"/><circle cx="330.63" cy="802.63" r="0.8"/><circle cx="362.74" cy="803.54" r="0.65"/><circle cx="359.22" cy="802.58" r="0.6"/><circle cx="291.73" cy="800.51" r="0.75"/><circle cx="332.48" cy="802.28" r="0.9"/><circle cx="320.97" cy="802.48" r="0.9"/><circle cx="307.86" cy="801.75" r="0.8"/><circle cx="311.47" cy="800.55" r="0.65"/><circle cx="390.94" cy="802.03" r="0.6"/><circle cx="380.91" cy="803.46" r="0.75"/><circle cx="346.7" cy="801.4" r="0.6"/><circle cx="296.63" cy="803.29" r="0.75"/><circle cx="374.62" cy="802.47" r="0.9"/><circle cx="424.2" cy="802.99" r="0.65"/><circle cx="312.41" cy="800.5" r="0.6"/><circle cx="365.47" cy="801.88" r="0.65"/><circle cx="311.55" cy="803.6" r="0.6"/><circle cx="290.29" cy="802.37" r="0.65"/><circle cx="309.1" cy="801.18" r="0.9"/><circle cx="381.56" cy="802.7" r="0.8"/><circle cx="406.28" cy="801.09" r="0.75"/><circle cx="297.73" cy="802.63" r="1"/><circle cx="401.87" cy="802.93" r="0.6"/><circle cx="342.82" cy="801.98" r="0.8"/><circle cx="300.15" cy="802.73" r="0.65"/><circle cx="321.22" cy="800.86" r="0.65"/><circle cx="381.75" cy="800.92" r="1"/><circle cx="422.47" cy="803.71" r="0.75"/><circle cx="391.55" cy="801.4" r="0.9"/><circle cx="386.85" cy="802.83" r="0.9"/><circle cx="429.23" cy="801.51" r="0.65"/><circle cx="431.27" cy="803.34" r="0.65"/><circle cx="432.2" cy="809.78" r="1"/><circle cx="432.46" cy="807.66" r="0.75"/><circle cx="431.68" cy="807.26" r="0.9"/><circle cx="429.91" cy="809" r="1"/><circle cx="429.66" cy="834.12" r="0.9"/><circle cx="430.14" cy="817.48" r="1"/><circle cx="432.91" cy="800.43" r="1"/><circle cx="429.99" cy="808.8" r="0.65"/><circle cx="431.01" cy="814.61" r="0.9"/><circle cx="432.51" cy="833.72" r="0.6"/><circle cx="430.89" cy="804.32" r="0.65"/><circle cx="432.52" cy="812.89" r="0.6"/><circle cx="431.83" cy="833.77" r="1"/><circle cx="481.21" cy="835.67" r="1"/><circle cx="433.12" cy="836.21" r="0.75"/><circle cx="445.62" cy="836.55" r="0.9"/><circle cx="502.3" cy="833.52" r="1"/><circle cx="506.64" cy="833.66" r="0.65"/><circle cx="445.94" cy="833.42" r="1"/><circle cx="436.46" cy="835.85" r="1"/><circle cx="452.84" cy="833.64" r="0.6"/><circle cx="494.16" cy="835.5" r="0.75"/><circle cx="455.44" cy="834.74" r="0.6"/><circle cx="458.04" cy="836.46" r="0.6"/><circle cx="487.92" cy="834.55" r="0.75"/><circle cx="492.3" cy="835.35" r="0.8"/><circle cx="499.03" cy="835.4" r="0.6"/><circle cx="493.92" cy="833.41" r="0.9"/><circle cx="492.61" cy="834.48" r="1"/><circle cx="433.24" cy="835.22" r="1"/><circle cx="499.92" cy="833.61" r="0.75"/><circle cx="443.25" cy="833.3" r="0.65"/><circle cx="452.91" cy="835.85" r="0.6"/><circle cx="429.66" cy="834.97" r="0.8"/><circle cx="486.24" cy="836.11" r="0.8"/><circle cx="477.83" cy="836.55" r="0.9"/><circle cx="450.64" cy="836.51" r="0.75"/><circle cx="496.07" cy="836.49" r="0.65"/><circle cx="470.11" cy="833.67" r="1"/><circle cx="492.1" cy="834.97" r="1"/><circle cx="475.27" cy="833.66" r="0.75"/><circle cx="458.43" cy="834.66" r="0.8"/><circle cx="502.34" cy="835.83" r="0.8"/><circle cx="502.06" cy="833.39" r="0.65"/><circle cx="508.96" cy="818.66" r="0.9"/><circle cx="508.79" cy="806.68" r="1"/><circle cx="509.07" cy="822.87" r="0.9"/><circle cx="509.84" cy="801.06" r="0.9"/><circle cx="508.68" cy="797.9" r="0.75"/><circle cx="510.45" cy="805.44" r="0.8"/><circle cx="510.02" cy="796.94" r="0.65"/><circle cx="509.84" cy="808.98" r="0.75"/><circle cx="507.93" cy="801.96" r="0.8"/><circle cx="509.87" cy="798.12" r="0.9"/><circle cx="508.53" cy="825.41" r="1"/><circle cx="509.6" cy="787" r="1"/><circle cx="508.34" cy="827.56" r="0.75"/><circle cx="508.69" cy="800.52" r="0.65"/><circle cx="508.14" cy="817.15" r="1"/><circle cx="508.06" cy="776.81" r="1"/><circle cx="508.81" cy="830.85" r="0.65"/><circle cx="509.99" cy="788.91" r="0.8"/><circle cx="507.87" cy="820.43" r="0.6"/><circle cx="510.51" cy="820.01" r="0.8"/><circle cx="508.86" cy="834.95" r="0.8"/><circle cx="509.2" cy="795.05" r="1"/><circle cx="507.58" cy="819.08" r="0.75"/><circle cx="561.59" cy="778.18" r="1"/><circle cx="529.03" cy="779.7" r="1"/><circle cx="558.92" cy="779.35" r="0.8"/><circle cx="583.42" cy="779.07" r="1"/><circle cx="586.49" cy="779.43" r="1"/><circle cx="559.8" cy="777.58" r="0.65"/><circle cx="565" cy="778.34" r="0.75"/><circle cx="530.61" cy="779.18" r="0.8"/><circle cx="529.04" cy="778.16" r="1"/><circle cx="563.93" cy="777.65" r="0.8"/><circle cx="550.7" cy="776.87" r="0.8"/><circle cx="553.89" cy="779.05" r="0.65"/><circle cx="587.79" cy="777.92" r="0.6"/><circle cx="542.22" cy="778.47" r="0.6"/><circle cx="510.64" cy="778.65" r="0.65"/><circle cx="571.73" cy="780.03" r="0.65"/><circle cx="553.98" cy="777.14" r="0.9"/><circle cx="548.36" cy="777.5" r="0.8"/><circle cx="553.35" cy="778.97" r="0.75"/><circle cx="554.2" cy="778.2" r="0.8"/><circle cx="526.13" cy="779.13" r="0.8"/><circle cx="553.49" cy="779.97" r="1"/><circle cx="595.9" cy="778.01" r="0.6"/><circle cx="529.95" cy="778.1" r="0.6"/><circle cx="508.4" cy="778.22" r="0.8"/><circle cx="563.83" cy="779.09" r="0.9"/><circle cx="531.09" cy="777.56" r="1"/><circle cx="543.28" cy="780.04" r="0.65"/><circle cx="596.78" cy="780.07" r="0.8"/><circle cx="526.3" cy="777.24" r="0.6"/><circle cx="580.14" cy="778.96" r="0.8"/><circle cx="565.06" cy="779.25" r="0.65"/><circle cx="539.02" cy="778.97" r="0.8"/><circle cx="549.38" cy="777.8" r="0.9"/><circle cx="565.73" cy="779.45" r="0.8"/><circle cx="539.16" cy="779.69" r="0.75"/><circle cx="594.66" cy="802.13" r="0.8"/><circle cx="595.36" cy="801.21" r="1"/><circle cx="595.78" cy="805.58" r="1"/><circle cx="595.37" cy="787.49" r="0.8"/><circle cx="596.71" cy="799.19" r="0.75"/><circle cx="595.97" cy="782.06" r="0.8"/><circle cx="594.19" cy="778.58" r="0.75"/><circle cx="596.52" cy="805.04" r="0.75"/><circle cx="596.95" cy="799.55" r="0.6"/><circle cx="596.76" cy="784.13" r="0.75"/><circle cx="596.65" cy="785.6" r="0.65"/><circle cx="596.37" cy="807.59" r="0.8"/><circle cx="596.48" cy="789.11" r="0.8"/><circle cx="694.79" cy="809.77" r="1"/><circle cx="671.29" cy="811.86" r="1"/><circle cx="708.89" cy="811.06" r="1"/><circle cx="700.83" cy="809.87" r="1"/><circle cx="620.62" cy="809.47" r="0.8"/><circle cx="679.35" cy="809.6" r="0.6"/><circle cx="627.21" cy="810" r="0.65"/><circle cx="653.97" cy="811.09" r="0.8"/><circle cx="653.18" cy="809.69" r="0.8"/><circle cx="624.91" cy="809.76" r="0.9"/><circle cx="703.92" cy="809.22" r="0.75"/><circle cx="653.29" cy="811.11" r="1"/><circle cx="631.35" cy="810.78" r="0.8"/><circle cx="646.99" cy="812.47" r="0.6"/><circle cx="616.44" cy="810.43" r="1"/><circle cx="596.96" cy="811.27" r="1"/><circle cx="687.72" cy="812.6" r="0.6"/><circle cx="658.76" cy="810.85" r="0.65"/><circle cx="597.65" cy="811.64" r="1"/><circle cx="609.57" cy="809.52" r="1"/><circle cx="640.24" cy="810.81" r="0.9"/><circle cx="664.34" cy="812.3" r="0.75"/><circle cx="649.09" cy="810.64" r="0.9"/><circle cx="600.06" cy="810.18" r="0.75"/><circle cx="699.42" cy="810.57" r="0.9"/><circle cx="719.49" cy="812.17" r="0.75"/><circle cx="718.29" cy="811.43" r="0.6"/><circle cx="635.72" cy="810.28" r="0.75"/><circle cx="609.65" cy="812.51" r="0.6"/><circle cx="693.84" cy="809.34" r="1"/><circle cx="664.36" cy="810.58" r="0.9"/><circle cx="599.67" cy="810.22" r="0.6"/><circle cx="599.25" cy="811.99" r="0.8"/><circle cx="671.33" cy="811.44" r="0.9"/><circle cx="709.94" cy="811.28" r="0.9"/><circle cx="612.15" cy="811.49" r="1"/><circle cx="669.75" cy="811.52" r="0.65"/><circle cx="598.36" cy="811.35" r="1"/><circle cx="691.07" cy="809.54" r="0.65"/><circle cx="704.73" cy="810.63" r="0.6"/><circle cx="710.49" cy="811.43" r="0.75"/><circle cx="705.08" cy="809.67" r="0.75"/><circle cx="665.36" cy="810.08" r="0.75"/><circle cx="616.99" cy="809.32" r="0.6"/><circle cx="648.51" cy="811.38" r="0.6"/><circle cx="657.11" cy="810.98" r="0.6"/><circle cx="692.5" cy="810.63" r="1"/><circle cx="711.07" cy="810.72" r="0.6"/><circle cx="680.47" cy="811.22" r="1"/><circle cx="719.04" cy="810.82" r="0.8"/><circle cx="663.66" cy="809.48" r="0.8"/><circle cx="620.51" cy="809.72" r="0.6"/><circle cx="717.83" cy="771.61" r="1"/><circle cx="721.09" cy="801.13" r="0.6"/><circle cx="718.21" cy="791.8" r="0.8"/><circle cx="720.25" cy="811.18" r="0.65"/><circle cx="720.33" cy="769.31" r="0.6"/><circle cx="720.34" cy="777.52" r="1"/><circle cx="720.28" cy="730.17" r="0.6"/><circle cx="719.7" cy="784.55" r="0.8"/><circle cx="720.97" cy="768.36" r="0.75"/><circle cx="717.98" cy="724.56" r="0.6"/><circle cx="717.85" cy="811.8" r="1"/><circle cx="719.9" cy="746.5" r="0.8"/><circle cx="720.28" cy="782.82" r="0.65"/><circle cx="720.64" cy="720.29" r="0.9"/><circle cx="719.05" cy="807.12" r="0.9"/><circle cx="719.4" cy="742.52" r="0.65"/><circle cx="720.51" cy="798.89" r="0.75"/><circle cx="718.36" cy="720.66" r="0.8"/><circle cx="720.45" cy="766.78" r="0.8"/><circle cx="720.47" cy="721.53" r="0.9"/><circle cx="718.75" cy="780.61" r="0.9"/><circle cx="720.19" cy="718.72" r="0.9"/><circle cx="719.86" cy="780.79" r="0.6"/><circle cx="719.84" cy="732.51" r="0.75"/><circle cx="721.12" cy="756.36" r="0.65"/><circle cx="720.13" cy="776.48" r="0.9"/><circle cx="718.6" cy="738.3" r="0.8"/><circle cx="717.81" cy="785.5" r="0.75"/><circle cx="718.33" cy="786.98" r="0.6"/><circle cx="718.28" cy="785" r="0.9"/><circle cx="721.12" cy="798.69" r="0.9"/><circle cx="720.91" cy="746.7" r="0.75"/><circle cx="719.64" cy="761.21" r="0.8"/><circle cx="718.48" cy="735.79" r="1"/><circle cx="718.6" cy="722.8" r="0.9"/><circle cx="719.14" cy="807.33" r="1"/><circle cx="718.67" cy="792.92" r="0.6"/><circle cx="719.36" cy="736.35" r="0.6"/><circle cx="768.43" cy="717.71" r="0.6"/><circle cx="739.62" cy="718.47" r="0.75"/><circle cx="801.58" cy="718.27" r="0.8"/><circle cx="765.59" cy="717.19" r="0.65"/><circle cx="735.77" cy="717.11" r="1"/><circle cx="745.03" cy="718.46" r="0.75"/><circle cx="755.74" cy="718.26" r="0.65"/><circle cx="740.9" cy="719.64" r="0.8"/><circle cx="753.03" cy="716.86" r="1"/><circle cx="761.53" cy="716.78" r="0.75"/><circle cx="774.24" cy="717.67" r="0.9"/><circle cx="775.18" cy="716.82" r="0.65"/><circle cx="811.59" cy="719.44" r="0.8"/><circle cx="773.24" cy="717.23" r="0.75"/><circle cx="757.97" cy="719.72" r="0.9"/><circle cx="795.29" cy="719.78" r="0.75"/><circle cx="797.66" cy="717.65" r="0.65"/><circle cx="753.43" cy="716.59" r="0.6"/><circle cx="770.45" cy="719.46" r="0.8"/><circle cx="763.75" cy="719.38" r="0.6"/><circle cx="799.48" cy="718.68" r="0.6"/><circle cx="784.61" cy="716.81" r="0.75"/><circle cx="771.13" cy="718.68" r="1"/><circle cx="765.62" cy="717.12" r="0.65"/><circle cx="752.74" cy="717.3" r="1"/><circle cx="738.56" cy="716.63" r="0.75"/><circle cx="806.91" cy="716.7" r="0.9"/><circle cx="803.43" cy="719.35" r="0.6"/><circle cx="742" cy="718.25" r="1"/><circle cx="778.94" cy="719.85" r="0.6"/><circle cx="727.1" cy="717.58" r="0.6"/><circle cx="806.74" cy="718.8" r="0.75"/><circle cx="773.53" cy="718" r="1"/><circle cx="727.51" cy="717.6" r="0.75"/><circle cx="754.55" cy="717.77" r="0.8"/><circle cx="733.51" cy="717.31" r="0.65"/><circle cx="804.36" cy="719.53" r="0.8"/><circle cx="785.64" cy="717.16" r="0.6"/></g>
<rect x="882.6" y="336.9" width="27.7" height="6.2" fill="#fff" stroke="none" stroke-width="0"/>
<rect x="882.9" y="337.5" width="27.1" height="2.9" fill="#8a8a8a" stroke="#111" stroke-width="0.7"/>
<polyline points="882.6,343.1 910.3,343.1" fill="none" stroke="#111" stroke-width="0.9" stroke-linecap="butt"/>
<rect x="287.6" y="716" width="6" height="48" fill="#fff" stroke="none" stroke-width="0"/>
<rect x="287.9" y="716" width="2.6" height="48" fill="#7a7a7a" stroke="#111" stroke-width="0.8"/>
<polyline points="293.3,716 293.3,764" fill="none" stroke="#111" stroke-width="0.9" stroke-linecap="butt"/>
<polyline points="292.3,716 292.3,764" fill="none" stroke="#888" stroke-width="0.6" stroke-linecap="butt"/>
<polyline points="287.5,740.3 293.5,740.3" fill="none" stroke="#111" stroke-width="0.8" stroke-linecap="butt"/>
<polyline points="287.2,716 293.8,716" fill="none" stroke="#111" stroke-width="1" stroke-linecap="butt"/>
<polyline points="287.2,764 293.8,764" fill="none" stroke="#111" stroke-width="1" stroke-linecap="butt"/>
<polyline points="342,579.2 413.6,579.2" fill="none" stroke="#111" stroke-width="2.3" stroke-linecap="butt"/>
<polyline points="413.6,579.4 452.3,579.4" fill="none" stroke="#111" stroke-width="1.4" stroke-linecap="butt"/>
<polyline points="324.6,579.5 324.6,675" fill="none" stroke="#111" stroke-width="1.8" stroke-linecap="butt"/>
<polyline points="375.6,579.5 375.6,621.4" fill="none" stroke="#111" stroke-width="0.9" stroke-linecap="butt"/>
<polyline points="384.6,579.5 384.6,621.4" fill="none" stroke="#111" stroke-width="0.9" stroke-linecap="butt"/>
<polyline points="393.9,579.5 393.9,621.4" fill="none" stroke="#111" stroke-width="0.9" stroke-linecap="butt"/>
<polyline points="403.8,579.5 403.8,621.4" fill="none" stroke="#111" stroke-width="0.9" stroke-linecap="butt"/>
<polyline points="412.7,579.5 412.7,621.4" fill="none" stroke="#111" stroke-width="0.9" stroke-linecap="butt"/>
<polyline points="422,579.5 422,621.4" fill="none" stroke="#111" stroke-width="0.9" stroke-linecap="butt"/>
<polyline points="431.5,579.5 431.5,621.4" fill="none" stroke="#111" stroke-width="0.9" stroke-linecap="butt"/>
<polyline points="440.8,579.5 440.8,621.4" fill="none" stroke="#111" stroke-width="0.9" stroke-linecap="butt"/>
<polyline points="450.3,579.5 450.3,621.4" fill="none" stroke="#111" stroke-width="0.9" stroke-linecap="butt"/>
<polyline points="375.6,633.3 375.6,674.5" fill="none" stroke="#111" stroke-width="0.9" stroke-linecap="butt"/>
<polyline points="384.6,633.3 384.6,674.5" fill="none" stroke="#111" stroke-width="0.9" stroke-linecap="butt"/>
<polyline points="393.9,633.3 393.9,674.5" fill="none" stroke="#111" stroke-width="0.9" stroke-linecap="butt"/>
<polyline points="403.8,633.3 403.8,674.5" fill="none" stroke="#111" stroke-width="0.9" stroke-linecap="butt"/>
<polyline points="373,621.4 452.3,621.4" fill="none" stroke="#111" stroke-width="1.8" stroke-linecap="butt"/>
<polyline points="373,633.3 405.7,633.3" fill="none" stroke="#111" stroke-width="1.8" stroke-linecap="butt"/>
<polyline points="374.2,621.6 374.2,633.1" fill="none" stroke="#111" stroke-width="2.4" stroke-linecap="butt"/>
<polyline points="405.7,633.3 415.6,674.9" fill="none" stroke="#111" stroke-width="0.9" stroke-linecap="butt"/>
<polyline points="405.7,632.3 450.3,632.3" fill="none" stroke="#555" stroke-width="0.9" stroke-dasharray="1.2 1.2" stroke-linecap="butt"/>
<polyline points="450.3,621.6 450.3,676.8" fill="none" stroke="#555" stroke-width="0.9" stroke-dasharray="1.2 1.2" stroke-linecap="butt"/>
<rect x="371.6" y="619.8" width="2.8" height="2.8" fill="#fff" stroke="#333" stroke-width="0.7"/>
<rect x="371.6" y="632.8" width="2.8" height="2.8" fill="#fff" stroke="#333" stroke-width="0.7"/>
<rect x="450.9" y="578" width="2.8" height="2.8" fill="#fff" stroke="#333" stroke-width="0.7"/>
<rect x="450.9" y="619.8" width="2.8" height="2.8" fill="#fff" stroke="#333" stroke-width="0.7"/>
<polyline points="452.3,601 346.3,601 346.3,652.5 394,652.5" fill="none" stroke="#444" stroke-width="0.9" stroke-linecap="butt"/>
<polygon points="396,652.5 391.5,650.8 391.5,654.2" fill="#111"/>
<text x="458.2" y="603.2" font-size="6.3" text-anchor="start" fill="#333" stroke="#333" stroke-width="0.18" textLength="8.2" lengthAdjust="spacingAndGlyphs">UP</text>
<rect x="418.2" y="663.6" width="23.4" height="23.9" fill="none" stroke="#111" stroke-width="0.9" stroke-dasharray="2 1.3"/>
<path d="M 470.6,674.8 L 490.6,696.2 A 29 29 0 0 0 499,674.8" fill="none" stroke="#111" stroke-width="1"/>
<path d="M 786.4,427.6 L 769.2,410.8 A 24 24 0 0 0 762.5,427.8" fill="none" stroke="#111" stroke-width="1"/>
<path d="M 816.3,367.9 A 25 25 0 0 0 822.9,385.2 L 840.2,367.9" fill="none" stroke="#111" stroke-width="1"/>
<path d="M 848.5,381.8 L 866.3,400.2 A 26 26 0 0 1 848.3,407.1" fill="none" stroke="#111" stroke-width="1"/>
<path d="M 792.7,437.2 L 808.9,453.4 A 23 23 0 0 1 791.3,460.4" fill="none" stroke="#111" stroke-width="1"/>
<path d="M 747.5,500.8 L 761.8,515.2 A 19.5 19.5 0 0 1 766,501.5 M 785.7,500.8 L 771.7,514.8 A 19.5 19.5 0 0 0 766,501.5" fill="none" stroke="#111" stroke-width="1"/>
<polyline points="713.6,470.4 719.5,476.4" fill="none" stroke="#111" stroke-width="3.6" stroke-linejoin="miter" stroke-linecap="square"/>
<polyline points="713.6,470.4 719.5,476.4" fill="none" stroke="#8e8e8e" stroke-width="1.9" stroke-linejoin="miter" stroke-linecap="square"/>
<polyline points="739.2,496 743.8,500.6" fill="none" stroke="#111" stroke-width="3.6" stroke-linejoin="miter" stroke-linecap="square"/>
<polyline points="739.2,496 743.8,500.6" fill="none" stroke="#8e8e8e" stroke-width="1.9" stroke-linejoin="miter" stroke-linecap="square"/>
<polyline points="720.28,475.62 739.98,495.22" fill="none" stroke="#333" stroke-width="1.1" stroke-dasharray="2.3 1.6" stroke-linecap="butt"/>
<polyline points="718.72,477.18 738.42,496.78" fill="none" stroke="#333" stroke-width="1.1" stroke-dasharray="2.3 1.6" stroke-linecap="butt"/>
<polyline points="437.6,463 486.1,463 503.8,480 503.8,675" fill="none" stroke="#333" stroke-width="1" stroke-dasharray="3.2 2.1" stroke-linecap="butt"/>
<polyline points="514.8,646 514.8,480.6 534.6,462.8 581.1,462.8 690.5,571.7 690.5,595.4 640.8,645.9 514.8,645.9" fill="none" stroke="#333" stroke-width="1" stroke-dasharray="3.2 2.1" stroke-linecap="butt"/>
<rect x="505.8" y="476.6" width="8.4" height="8" fill="#111" stroke="#111" stroke-width="0.5"/>
<polyline points="638.4,400.3 599.1,439.7 599.1,477.5 653.6,532" fill="none" stroke="#777" stroke-width="1" stroke-linecap="butt"/>
<polyline points="647.04,408.92 611.3,444.74 611.3,472.45 662.23,523.37" fill="none" stroke="#333" stroke-width="1" stroke-dasharray="2.2 1.4" stroke-linecap="butt"/>
<polyline points="648.6,410.47 613.5,445.65 613.5,471.54 663.78,521.82" fill="none" stroke="#333" stroke-width="1.2" stroke-linecap="butt"/>
<polyline points="626.2,458 676.5,509.1 664,521.5" fill="none" stroke="#111" stroke-width="0.9" stroke-linecap="butt"/>
<polyline points="626.2,458 649.4,435.1 699.7,485.4 712.6,472.2" fill="none" stroke="#111" stroke-width="0.9" stroke-linecap="butt"/>
<polyline points="636.5,410.5 705,478.5" fill="none" stroke="#333" stroke-width="0.9" stroke-dasharray="2.6 2.0" stroke-linecap="butt"/>
<polygon points="618.6,442.7 632.2,430.3 644.6,442.2 631.1,455.1" fill="none" stroke="#333" stroke-width="0.7" stroke-dasharray="1.3 1.1"/>
<polyline points="631.5,454.5 644.3,442.5" fill="none" stroke="#444" stroke-width="1.6" stroke-linecap="butt"/>
<rect x="626" y="470.5" width="17" height="17" rx="2.2" transform="rotate(45 634.5 479)" fill="none" stroke="#444" stroke-width="0.9"/>
<rect x="628.8" y="473.3" width="11.4" height="11.4" rx="2" transform="rotate(45 634.5 479)" fill="none" stroke="#111" stroke-width="0.9"/>
<polyline points="630.5,481 638,481" fill="none" stroke="#111" stroke-width="1.1" stroke-linecap="butt"/>
<polyline points="633,477 633,484" fill="none" stroke="#111" stroke-width="1.1" stroke-linecap="butt"/>
<polyline points="650,481 662.9,494.6" fill="none" stroke="#111" stroke-width="1.8" stroke-linecap="butt"/>
<polygon points="637,492.4 648,481.3 660.5,494.5 651,506.4" fill="none" stroke="#333" stroke-width="0.7" stroke-dasharray="1.3 1.1"/>
<polyline points="864.2,352.7 881,369.5" fill="none" stroke="#333" stroke-width="0.8" stroke-linecap="butt"/>
<polyline points="881,352.7 864.2,369.5" fill="none" stroke="#333" stroke-width="0.8" stroke-linecap="butt"/>
<rect x="921" y="347.6" width="15.5" height="4.6" rx="1.5" fill="#fff" stroke="#111" stroke-width="0.8"/>
<path d="M 922.5,352.3 L 922.5,362 A 6.3 7.5 0 0 0 935,362 L 935,352.3" fill="none" stroke="#111" stroke-width="0.8"/>
<polyline points="849,410.1 943.3,410.1" fill="none" stroke="#666" stroke-width="0.8" stroke-linecap="butt"/>
<polyline points="923,410.1 923,428" fill="none" stroke="#666" stroke-width="0.8" stroke-linecap="butt"/>
<ellipse cx="873.3" cy="419.5" rx="8.3" ry="7" fill="none" stroke="#111" stroke-width="0.8"/>
<ellipse cx="905.9" cy="419.5" rx="8.3" ry="7" fill="none" stroke="#111" stroke-width="0.8"/>
<circle cx="873.3" cy="423" r="0.5" fill="#111" stroke="#111" stroke-width="0.3"/>
<circle cx="905.9" cy="423" r="0.5" fill="#111" stroke="#111" stroke-width="0.3"/>
<polyline points="803.8,356 846,356" fill="none" stroke="#777" stroke-width="1.1" stroke-dasharray="3 1" stroke-linecap="butt"/>
<ellipse cx="831.9" cy="454.3" rx="6.5" ry="7.8" fill="none" stroke="#111" stroke-width="0.8"/>
<rect x="832.5" y="478.5" width="5.5" height="14.5" rx="1" fill="#fff" stroke="#111" stroke-width="0.8"/>
<path d="M 832.5,480 L 822,480 A 5 6.5 0 0 0 822,492 L 832.5,492" fill="none" stroke="#111" stroke-width="0.8"/>
<circle cx="729.9" cy="634.8" r="8.3" fill="#fff" stroke="#222" stroke-width="1"/>
<rect x="725.4" y="630.3" width="9" height="9" fill="none" stroke="#222" stroke-width="0.8"/>
<circle cx="729.9" cy="634.8" r="1.9" fill="none" stroke="#111" stroke-width="1.3"/>
<circle cx="729.9" cy="654.6" r="8.3" fill="#fff" stroke="#222" stroke-width="1"/>
<rect x="725.4" y="650.1" width="9" height="9" fill="none" stroke="#222" stroke-width="0.8"/>
<circle cx="729.9" cy="654.6" r="1.9" fill="none" stroke="#111" stroke-width="1.3"/>
<rect x="692.2" y="655.9" width="22.2" height="15.7" fill="#fff" stroke="#111" stroke-width="1.4"/>
<polyline points="697,655.9 697,671.6" fill="none" stroke="#111" stroke-width="0.9" stroke-linecap="butt"/>
<circle cx="694.5" cy="663.7" r="1.1" fill="none" stroke="#111" stroke-width="0.8"/>
<rect x="693.9" y="674.5" width="22.2" height="17.3" fill="#fff" stroke="#111" stroke-width="1.4"/>
<polyline points="698.4,674.5 698.4,691.8" fill="none" stroke="#111" stroke-width="0.9" stroke-linecap="butt"/>
<circle cx="696.2" cy="683.2" r="1.1" fill="none" stroke="#111" stroke-width="0.8"/>
<path d="M 701,668.5 Q 709,671 715,671.5 Q 718,670 719,667.5" fill="none" stroke="#111" stroke-width="0.7"/>
<path d="M 701,677.5 Q 709,675 715,675 L 717.5,677.5" fill="none" stroke="#111" stroke-width="0.7"/>
<rect x="794.1" y="267.1" width="45.7" height="17.7" fill="#111" stroke="none" stroke-width="0"/>
<rect x="796.05" y="269.05" width="41.8" height="13.8" fill="none" stroke="#fff" stroke-width="1.7" stroke-dasharray="2.3 1.2"/>
<rect x="797.9" y="271.6" width="38" height="8.7" fill="#9a9a9a" stroke="none" stroke-width="0"/>
<rect x="799.7" y="273.6" width="34.4" height="4.9" fill="#111" stroke="none" stroke-width="0"/>
<rect x="800.9" y="274.8" width="32" height="2.5" fill="#fff" stroke="none" stroke-width="0"/>
<polyline points="402.8,464.6 377.2,464.6" fill="none" stroke="#222" stroke-width="0.8" stroke-linecap="butt"/>
<polygon points="377.2,464.6 382.7,462.9 382.7,466.3" fill="#111"/>
<polyline points="419.4,384.9 399.6,365.6" fill="none" stroke="#222" stroke-width="0.8" stroke-linecap="butt"/>
<polygon points="399.6,365.6 404.73,368.22 402.35,370.66" fill="#111"/>
<polyline points="555.7,248.8 540.5,233.5" fill="none" stroke="#222" stroke-width="0.8" stroke-linecap="butt"/>
<polygon points="540.5,233.5 545.58,236.2 543.17,238.6" fill="#111"/>
<polyline points="677.3,320.3 695.1,303.5" fill="none" stroke="#222" stroke-width="0.8" stroke-linecap="butt"/>
<polygon points="695.1,303.5 692.27,308.51 689.93,306.04" fill="#111"/>
<rect x="463.5" y="96.5" width="25" height="11" fill="#fff" stroke="#000" stroke-width="1"/>
<text x="476" y="104.8" font-size="7" text-anchor="middle" fill="#111" stroke="#111" stroke-width="0.18" textLength="20.4" lengthAdjust="spacingAndGlyphs">PATIO</text>
<rect x="498.5" y="350.5" width="48" height="19" fill="#fff" stroke="#000" stroke-width="1"/>
<text x="522.2" y="359.6" font-size="6.8" text-anchor="middle" fill="#111" stroke="#111" stroke-width="0.18" textLength="42.4" lengthAdjust="spacingAndGlyphs">RECREATION</text>
<text x="522" y="367.2" font-size="6.8" text-anchor="middle" fill="#111" stroke="#111" stroke-width="0.18" textLength="17.9" lengthAdjust="spacingAndGlyphs">AREA</text>
<text x="526.4" y="377.5" font-size="6.5" text-anchor="middle" fill="#111" stroke="#111" stroke-width="0.18" textLength="26.5" lengthAdjust="spacingAndGlyphs">18-6x21-1</text>
<rect x="698.5" y="363.5" width="27" height="19" fill="#fff" stroke="#000" stroke-width="1"/>
<text x="712" y="372.5" font-size="6.8" text-anchor="middle" fill="#111" stroke="#111" stroke-width="0.18" textLength="21.6" lengthAdjust="spacingAndGlyphs">GUEST</text>
<text x="712.1" y="379.6" font-size="6.8" text-anchor="middle" fill="#111" stroke="#111" stroke-width="0.18" textLength="19" lengthAdjust="spacingAndGlyphs">SUITE</text>
<text x="713.5" y="390.6" font-size="6.5" text-anchor="middle" fill="#111" stroke="#111" stroke-width="0.18" textLength="27" lengthAdjust="spacingAndGlyphs">14-3x15-0</text>
<rect x="646.5" y="461.5" width="19" height="12" fill="#fff" stroke="#000" stroke-width="1"/>
<text x="655.7" y="470.6" font-size="6.8" text-anchor="middle" fill="#111" stroke="#111" stroke-width="0.18" textLength="13.5" lengthAdjust="spacingAndGlyphs">BAR</text>
<rect x="410.5" y="507.5" width="24" height="19" fill="#fff" stroke="#000" stroke-width="1"/>
<text x="422.3" y="516.1" font-size="6.8" text-anchor="middle" fill="#111" stroke="#111" stroke-width="0.18" textLength="17.3" lengthAdjust="spacingAndGlyphs">PLAY</text>
<text x="422.2" y="523.7" font-size="6.8" text-anchor="middle" fill="#111" stroke="#111" stroke-width="0.18" textLength="18.3" lengthAdjust="spacingAndGlyphs">AREA</text>
<text x="424.5" y="535.5" font-size="6.5" text-anchor="middle" fill="#111" stroke="#111" stroke-width="0.18" textLength="27.5" lengthAdjust="spacingAndGlyphs">15-1x12-2</text>
<rect x="590.5" y="573.5" width="28" height="19" fill="#fff" stroke="#000" stroke-width="1"/>
<text x="604.6" y="582.1" font-size="6.8" text-anchor="middle" fill="#111" stroke="#111" stroke-width="0.18" textLength="21.2" lengthAdjust="spacingAndGlyphs">MEDIA</text>
<text x="604.6" y="589.6" font-size="6.8" text-anchor="middle" fill="#111" stroke="#111" stroke-width="0.18" textLength="18" lengthAdjust="spacingAndGlyphs">AREA</text>
<text x="604.8" y="601.3" font-size="6.5" text-anchor="middle" fill="#111" stroke="#111" stroke-width="0.18" textLength="27.6" lengthAdjust="spacingAndGlyphs">18-9x19-6</text>
<rect x="756.5" y="550.5" width="38" height="11" fill="#fff" stroke="#000" stroke-width="1"/>
<text x="775.5" y="559" font-size="6.8" text-anchor="middle" fill="#111" stroke="#111" stroke-width="0.18" textLength="32" lengthAdjust="spacingAndGlyphs">EXERCISE</text>
<text x="777.6" y="569.7" font-size="6.5" text-anchor="middle" fill="#111" stroke="#111" stroke-width="0.18" textLength="27.3" lengthAdjust="spacingAndGlyphs">12-7x12-9</text>
<rect x="556.5" y="703.5" width="46" height="19" fill="#fff" stroke="#000" stroke-width="1"/>
<text x="579.4" y="712.1" font-size="6.8" text-anchor="middle" fill="#111" stroke="#111" stroke-width="0.18" textLength="40" lengthAdjust="spacingAndGlyphs">UNFINISHED</text>
<text x="579.4" y="719.6" font-size="6.8" text-anchor="middle" fill="#111" stroke="#111" stroke-width="0.18" textLength="31" lengthAdjust="spacingAndGlyphs">STORAGE</text>
<text x="580.5" y="885.9" font-size="22.4" text-anchor="middle" fill="#111" stroke="#111" stroke-width="0.45" textLength="223" lengthAdjust="spacingAndGlyphs">LOWER FLOOR PLAN</text>
<polyline points="468.2,888.4 692.8,888.4" fill="none" stroke="#111" stroke-width="1.3" stroke-linecap="butt"/>
<text x="572" y="904" font-size="11.5" text-anchor="middle" fill="#111" stroke="#111" stroke-width="0.15" textLength="61.5" lengthAdjust="spacingAndGlyphs">2042 FinSqFt</text>
</g></svg>
</body></html>
